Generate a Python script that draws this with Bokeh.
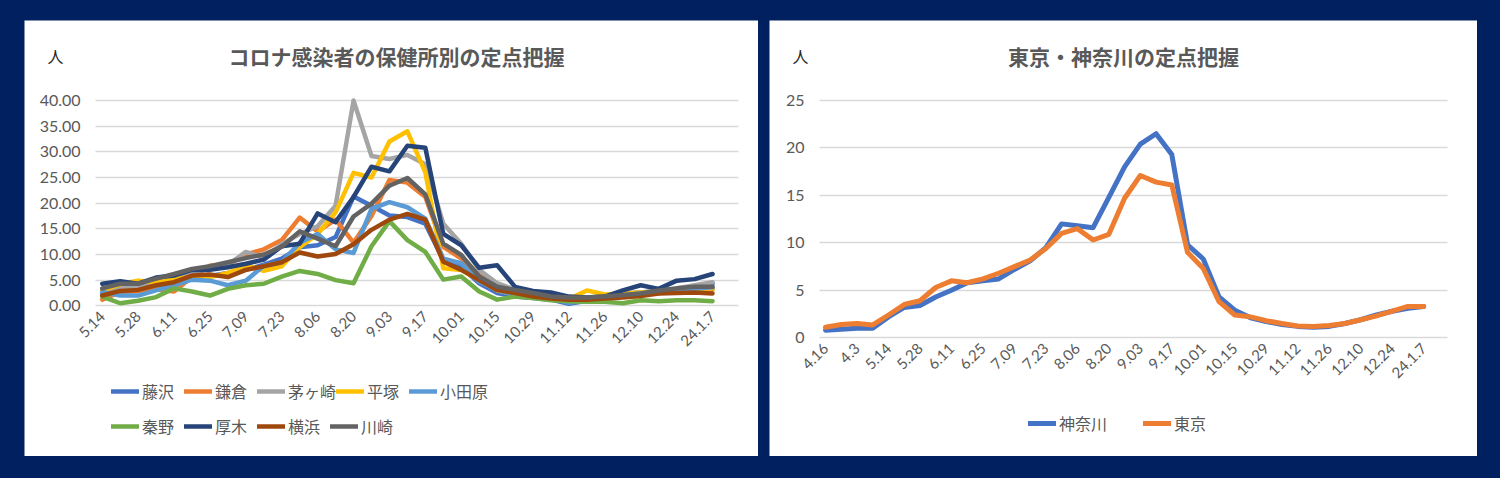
from bokeh.plotting import figure
from bokeh.models import (Range1d, FixedTicker, NumeralTickFormatter, Legend,
                          LegendItem, Label, Spacer)
from bokeh.layouts import row, column
from bokeh.embed import file_html
from bokeh.resources import INLINE

# ---------------- data: left chart (weekly, 2023-05-14 .. 2024-01-07) -------------
left_tick_labels = ["5.14", "5.28", "6.11", "6.25", "7.09", "7.23", "8.06", "8.20",
                    "9.03", "9.17", "10.01", "10.15", "10.29", "11.12", "11.26",
                    "12.10", "12.24", "24.1.7"]
left_yticks = [0, 5, 10, 15, 20, 25, 30, 35, 40]

fujisawa = [2.5, 3.0, 3.0, 3.9, 4.6, 5.4, 5.8, 6.4, 7.0, 8.0, 9.2, 11.4, 11.8, 13.4,
            21.3, 19.5, 17.6, 17.3, 16.0, 8.9, 7.6, 4.4, 2.5, 1.8, 1.5, 1.2, 0.4,
            1.0, 1.8, 2.4, 2.6, 2.8, 3.2, 3.6, 4.3]
kamakura = [1.2, 2.7, 2.9, 3.2, 2.8, 5.6, 7.8, 8.0, 10.0, 11.0, 12.8, 17.2, 14.5, 16.8,
            12.3, 17.5, 24.5, 24.0, 21.2, 11.5, 9.2, 6.0, 3.7, 2.5, 2.0, 1.6, 1.3,
            1.2, 1.4, 1.8, 2.2, 2.5, 2.8, 3.0, 3.2]
chigasaki = [3.0, 3.6, 3.5, 4.5, 5.5, 6.5, 7.3, 8.0, 10.5, 9.4, 12.0, 14.0, 15.5, 19.5,
             40.0, 29.2, 28.6, 29.4, 27.6, 16.0, 12.1, 7.0, 4.4, 3.1, 2.4, 2.0, 1.6,
             1.4, 1.8, 2.2, 2.6, 3.0, 3.4, 4.0, 4.6]
hiratsuka = [3.0, 4.2, 4.9, 4.6, 5.3, 5.5, 5.6, 6.4, 7.9, 6.8, 7.7, 11.4, 14.0, 18.2,
             25.9, 25.0, 32.0, 34.0, 26.0, 7.3, 7.0, 5.0, 3.0, 2.2, 1.8, 1.4, 1.3,
             3.0, 2.2, 2.4, 2.6, 2.8, 3.0, 3.2, 3.4]
odawara = [2.7, 2.0, 2.0, 3.0, 4.0, 5.1, 4.9, 4.0, 4.9, 7.8, 8.5, 12.3, 14.0, 11.0,
           10.3, 18.9, 20.2, 19.2, 17.0, 9.2, 8.3, 4.7, 3.1, 2.0, 1.6, 1.4, 0.6,
           1.0, 1.6, 2.0, 2.4, 2.8, 3.0, 3.3, 3.6]
hadano = [1.8, 0.5, 1.0, 1.7, 3.4, 2.8, 2.0, 3.3, 4.0, 4.3, 5.7, 6.8, 6.2, 5.0,
          4.4, 11.6, 16.5, 12.8, 10.5, 5.1, 5.7, 2.8, 1.2, 1.8, 1.5, 1.1, 0.9,
          0.8, 0.8, 0.5, 1.1, 0.9, 1.1, 1.1, 0.9]
atsugi = [4.3, 4.8, 4.3, 5.5, 5.9, 7.0, 7.0, 7.5, 8.2, 9.0, 11.6, 12.1, 18.0, 16.3,
          21.2, 27.1, 26.2, 31.2, 30.8, 14.0, 11.8, 7.4, 7.9, 3.7, 2.9, 2.6, 1.8,
          1.6, 1.8, 3.0, 4.0, 3.3, 4.9, 5.2, 6.2]
yokohama = [2.0, 2.9, 3.1, 4.0, 4.6, 5.9, 6.1, 5.6, 7.0, 7.7, 8.5, 10.4, 9.6, 10.1,
            12.0, 14.8, 16.8, 17.9, 16.8, 8.6, 7.0, 5.0, 3.1, 2.5, 1.8, 1.4, 1.2,
            1.2, 1.4, 1.6, 1.9, 2.4, 2.5, 2.6, 2.4]
kawasaki = [3.4, 4.3, 4.3, 5.3, 6.2, 7.2, 7.7, 8.5, 9.3, 10.0, 11.5, 14.5, 13.1, 11.6,
            17.4, 19.9, 23.4, 24.9, 21.7, 12.1, 9.9, 5.7, 3.7, 3.1, 2.5, 1.8, 1.6,
            1.6, 1.8, 2.1, 2.4, 3.0, 3.4, 3.7, 3.7]

left_names = ["藤沢", "鎌倉", "茅ヶ崎", "平塚", "小田原", "秦野", "厚木", "横浜", "川崎"]
left_series = [fujisawa, kamakura, chigasaki, hiratsuka, odawara, hadano, atsugi,
               yokohama, kawasaki]
left_colors = ["#4472C4", "#ED7D31", "#A5A5A5", "#FFC000", "#5B9BD5", "#70AD47",
               "#264478", "#9E480E", "#636363"]

# ---------------- data: right chart (weekly, 2023-04-16 .. 2024-01-07) ------------
right_tick_labels = ["4.16", "4.3", "5.14", "5.28", "6.11", "6.25", "7.09", "7.23",
                     "8.06", "8.20", "9.03", "9.17", "10.01", "10.15", "10.29",
                     "11.12", "11.26", "12.10", "12.24", "24.1.7"]
right_yticks = [0, 5, 10, 15, 20, 25]

kanagawa = [0.8, 0.9, 1.0, 1.0, 2.2, 3.2, 3.4, 4.3, 5.0, 5.8, 6.0, 6.2, 7.2, 8.1,
            9.5, 12.0, 11.8, 11.6, 14.8, 18.0, 20.4, 21.5, 19.3, 9.8, 8.3, 4.3,
            2.9, 2.1, 1.7, 1.4, 1.2, 1.1, 1.2, 1.5, 1.9, 2.4, 2.8, 3.1, 3.3]
tokyo = [1.1, 1.4, 1.5, 1.35, 2.4, 3.5, 3.9, 5.3, 6.0, 5.8, 6.2, 6.8, 7.5, 8.2,
         9.4, 11.0, 11.5, 10.3, 10.9, 14.7, 17.1, 16.4, 16.1, 9.0, 7.3, 3.8,
         2.4, 2.2, 1.8, 1.5, 1.25, 1.2, 1.3, 1.5, 1.9, 2.3, 2.8, 3.3, 3.3]

right_names = ["神奈川", "東京"]
right_series = [kanagawa, tokyo]
right_colors = ["#4472C4", "#ED7D31"]

JP = "Noto Sans CJK JP"
NUM = "Lato"
TXT = "#595959"
GRID = "#D9D9D9"


def panel_figure(w, h, xr, yr, plot_x0, plot_x1, yticks, labels, title, title_x):
    p = figure(width=w, height=h, x_range=Range1d(*xr), y_range=Range1d(*yr),
               output_backend="svg", toolbar_location=None, min_border=0)
    p.background_fill_color = "white"
    p.border_fill_color = "white"
    p.outline_line_color = None
    p.xgrid.visible = False
    p.ygrid.grid_line_color = GRID
    p.ygrid.grid_line_width = 1.3
    p.ygrid.ticker = FixedTicker(ticks=yticks)
    try:
        p.ygrid.cross_bounds = (plot_x0, plot_x1)
    except Exception:
        p.ygrid.visible = False
        p.segment(x0=[plot_x0] * len(yticks), x1=[plot_x1] * len(yticks),
                  y0=yticks, y1=yticks, line_color=GRID, line_width=1.3)
    for ax in (p.xaxis, p.yaxis):
        ax.axis_line_color = None
        ax.major_tick_line_color = None
        ax.minor_tick_line_color = None
        ax.major_tick_out = 0
        ax.major_tick_in = 0
        ax.major_label_text_color = TXT
        ax.major_label_text_font = NUM
    p.yaxis.fixed_location = plot_x0
    p.xaxis.fixed_location = 0
    p.yaxis.ticker = FixedTicker(ticks=yticks)
    p.yaxis.major_label_standoff = 15
    p.yaxis.major_label_text_font_size = "16px"
    p.xaxis.ticker = FixedTicker(ticks=[2 * k for k in range(len(labels))])
    p.xaxis.major_label_overrides = {2 * k: lab for k, lab in enumerate(labels)}
    p.xaxis.major_label_standoff = 8
    p.xaxis.major_label_orientation = 0.785398
    p.xaxis.major_label_text_font_size = "15px"

    p.add_layout(Label(x=title_x, y=h - 35, x_units="screen", y_units="screen",
                       text=title, text_align="center", text_baseline="middle",
                       text_font=JP, text_font_size="21px", text_font_style="bold",
                       text_color=TXT))
    p.add_layout(Label(x=31, y=h - 35, x_units="screen", y_units="screen",
                       text="人", text_align="center", text_baseline="middle",
                       text_font=JP, text_font_size="16px", text_color="#262626"))
    return p


leg_common = dict(orientation="horizontal", glyph_width=28, glyph_height=20,
                  label_width=42, label_standoff=3, spacing=0, padding=0, margin=0,
                  label_text_font=JP, label_text_font_size="16px",
                  label_text_color=TXT, border_line_alpha=0,
                  background_fill_alpha=0)

# ---------------- left panel ----------------
p1 = panel_figure(734, 436, (-4.33, 36.56), (-29.36, 55.59), -0.373, 35.45,
                  left_yticks, left_tick_labels, "コロナ感染者の保健所別の定点把握", 372)
p1.yaxis.formatter = NumeralTickFormatter(format="0.00")

n_left = len(fujisawa)
rends = []
for name, ys, col in zip(left_names, left_series, left_colors):
    r = p1.line(x=list(range(n_left)), y=ys, line_color=col, line_width=4.5,
                line_join="round", line_cap="round")
    rends.append(r)

leg1 = Legend(items=[LegendItem(label=n, renderers=[r])
                     for n, r in zip(left_names[:5], rends[:5])],
              location=(87, 53), **leg_common)
leg2 = Legend(items=[LegendItem(label=n, renderers=[r])
                     for n, r in zip(left_names[5:], rends[5:])],
              location=(87, 18), **leg_common)
p1.add_layout(leg1)
p1.add_layout(leg2)

# ---------------- right panel ----------------
p2 = panel_figure(708, 436, (-3.558, 41.42), (-12.51, 33.43), -0.381, 39.52,
                  right_yticks, right_tick_labels, "東京・神奈川の定点把握", 354)

n_right = len(kanagawa)
rends2 = []
for name, ys, col in zip(right_names, right_series, right_colors):
    r = p2.line(x=list(range(n_right)), y=ys, line_color=col, line_width=5,
                line_join="round", line_cap="round")
    rends2.append(r)

leg_r = dict(leg_common)
leg_r.update(label_width=48, spacing=36)
leg3 = Legend(items=[LegendItem(label=n, renderers=[r])
                     for n, r in zip(right_names, rends2)],
              location=(259, 21), **leg_r)
p2.add_layout(leg3)

layout = column(Spacer(height=20),
                row(Spacer(width=24), p1, Spacer(width=11), p2))

html = file_html(layout, INLINE, title="定点把握")
html = html.replace("<head>", "<head><style>html,body{background:#002060;}</style>", 1)
open("out.html", "w").write(html)
